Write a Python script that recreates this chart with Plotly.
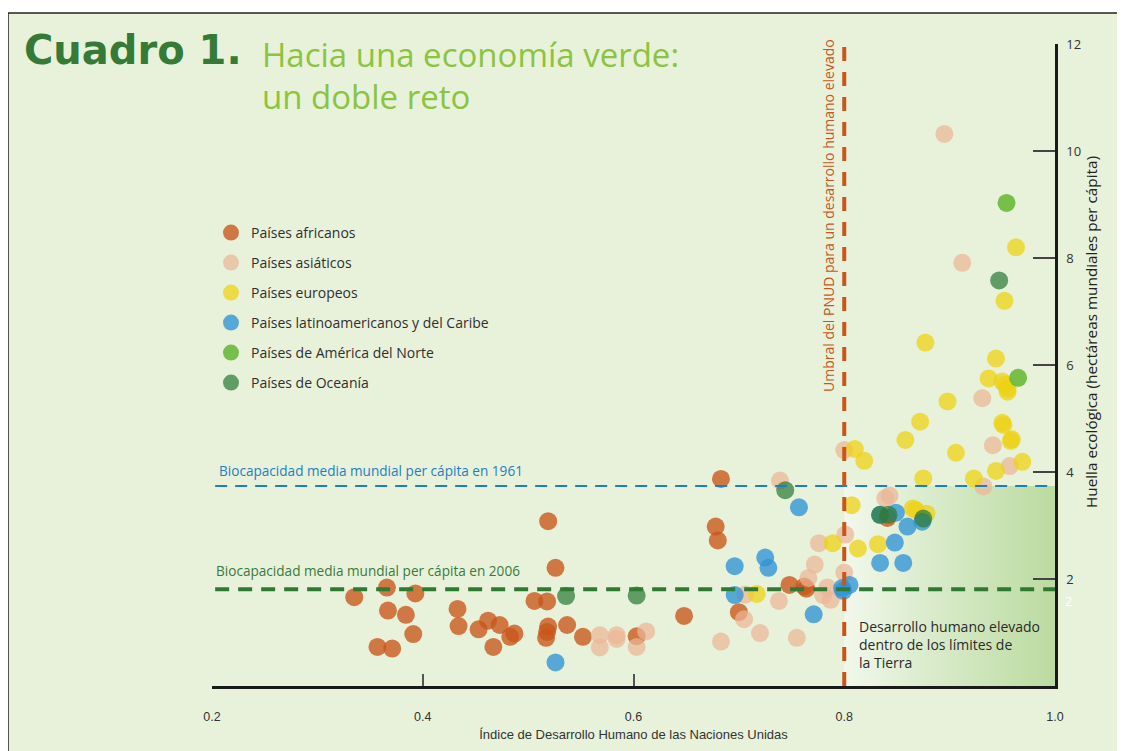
import plotly.graph_objects as go

# ---------------- data ----------------
african_x = [0.335, 0.366, 0.393, 0.367, 0.384, 0.391, 0.357, 0.371, 0.433, 0.434, 0.453, 0.462,
             0.473, 0.467, 0.483, 0.487, 0.519, 0.526, 0.506, 0.518, 0.519, 0.518, 0.517, 0.537,
             0.552, 0.603, 0.648, 0.683, 0.678, 0.680, 0.700, 0.748, 0.762, 0.764, 0.841]
african_y = [1.66, 1.84, 1.73, 1.41, 1.33, 0.97, 0.73, 0.70, 1.44, 1.12, 1.06, 1.22,
             1.14, 0.73, 0.92, 0.98, 3.08, 2.21, 1.59, 1.58, 1.11, 1.01, 0.90, 1.14,
             0.92, 0.93, 1.31, 3.87, 2.98, 2.72, 1.38, 1.89, 1.86, 1.82, 3.14]

asian_x = [0.895, 0.912, 0.931, 0.941, 0.957, 0.932, 0.800, 0.801, 0.776, 0.839, 0.843, 0.739,
           0.772, 0.800, 0.766, 0.784, 0.787, 0.780, 0.706, 0.738, 0.705, 0.720, 0.683, 0.755,
           0.568, 0.568, 0.584, 0.584, 0.603, 0.612]
asian_y = [10.32, 7.91, 5.38, 4.50, 4.11, 3.73, 4.41, 2.83, 2.67, 3.51, 3.56, 3.84,
           2.27, 2.12, 2.02, 1.84, 1.61, 1.70, 1.71, 1.59, 1.25, 0.99, 0.83, 0.90,
           0.95, 0.72, 0.95, 0.88, 0.73, 1.02]

european_x = [0.963, 0.952, 0.877, 0.944, 0.937, 0.950, 0.953, 0.955, 0.955, 0.898, 0.872, 0.950,
              0.951, 0.858, 0.959, 0.958, 0.906, 0.969, 0.944, 0.810, 0.819, 0.875, 0.923, 0.807,
              0.865, 0.868, 0.878, 0.789, 0.813, 0.832, 0.717]
european_y = [8.20, 7.20, 6.42, 6.12, 5.75, 5.69, 5.63, 5.56, 5.50, 5.32, 4.94, 4.92,
              4.88, 4.60, 4.61, 4.58, 4.36, 4.19, 4.02, 4.43, 4.21, 3.88, 3.88, 3.38,
              3.32, 3.29, 3.22, 2.67, 2.57, 2.65, 1.72]

latin_x = [0.526, 0.696, 0.725, 0.728, 0.696, 0.757, 0.771, 0.798, 0.805, 0.799, 0.834, 0.849,
           0.860, 0.874, 0.848, 0.834, 0.856]
latin_y = [0.44, 2.24, 2.40, 2.21, 1.70, 3.34, 1.34, 1.83, 1.89, 1.78, 3.20, 3.24,
           2.98, 3.07, 2.68, 2.30, 2.30]

north_america_x = [0.954, 0.965]
north_america_y = [9.03, 5.76]

oceania_x = [0.947, 0.536, 0.603, 0.744, 0.834, 0.842, 0.875]
oceania_y = [7.58, 1.68, 1.69, 3.66, 3.20, 3.20, 3.13]

series_names = ["Países africanos", "Países asiáticos", "Países europeos",
                "Países latinoamericanos y del Caribe", "Países de América del Norte",
                "Países de Oceanía"]

hdi_threshold = 0.8
biocap_1961 = 3.74
biocap_2006 = 1.81

x_ticks = [0.2, 0.4, 0.6, 0.8, 1.0]
x_tick_labels = ["0.2", "0.4", "0.6", "0.8", "1.0"]
y_ticks = [2, 4, 6, 8, 10, 12]
y_tick_labels = ["2", "4", "6", "8", "10", "12"]

# ---------------- layout helpers ----------------
OFF = 8  # page body margin
W, H = 1117, 743
ML, MR, MT, MB = 204, 70, 36, 65
PW, PH = W - ML - MR, H - MT - MB


def px_x(px):
    return (px - OFF - ML) / PW


def px_y(py):
    return (H - MB - (py - OFF)) / PH


BODY = "Open Sans, Noto Sans, sans-serif"
NARROW = "Liberation Sans Narrow, Arial Narrow, sans-serif"

fig = go.Figure()

# shaded "high development within Earth's limits" region
fig.add_trace(go.Scatter(
    x=[hdi_threshold, 1.0, 1.0, hdi_threshold, hdi_threshold],
    y=[0, 0, biocap_1961, biocap_1961, 0],
    mode="lines", line=dict(width=0), fill="toself",
    fillgradient=dict(type="horizontal",
                      colorscale=[[0, "#F2F8EC"], [0.35, "#DDEDD0"], [1, "#BBDBA0"]]),
    hoverinfo="skip", showlegend=False))

series = [
    (african_x, african_y, "#C8561A", 0.78),
    (asian_x, asian_y, "#EBB597", 0.72),
    (european_x, european_y, "#EDD215", 0.75),
    (latin_x, latin_y, "#2F93D6", 0.78),
    (north_america_x, north_america_y, "#6AB83A", 0.9),
    (oceania_x, oceania_y, "#2E7A37", 0.72),
]
for name, (xs, ys, col, op) in zip(series_names, series):
    fig.add_trace(go.Scatter(
        x=xs, y=ys, mode="markers", name=name, legendgroup=name,
        marker=dict(size=18, color=col, opacity=op, line=dict(width=0)),
    ))

shapes = [
    # background panel
    dict(type="rect", xref="paper", yref="paper", x0=px_x(8), x1=px_x(1140),
         y0=px_y(770), y1=px_y(13), fillcolor="#E8F2DA", line=dict(width=0), layer="below"),
    dict(type="line", xref="paper", yref="paper", x0=px_x(8), x1=px_x(1140),
         y0=px_y(13), y1=px_y(13), line=dict(color="#222", width=1.5), layer="below"),
    dict(type="line", xref="paper", yref="paper", x0=px_x(8), x1=px_x(8),
         y0=px_y(13), y1=px_y(770), line=dict(color="#222", width=1.5), layer="below"),
    # biocapacity lines
    dict(type="line", xref="x", yref="y", x0=0.203, x1=1.0, y0=biocap_1961, y1=biocap_1961,
         line=dict(color="#1C7FC4", width=2, dash="12px,8px"), layer="above"),
    dict(type="line", xref="x", yref="y", x0=0.203, x1=1.0, y0=biocap_2006, y1=biocap_2006,
         line=dict(color="#2F7A32", width=4, dash="14px,9px"), layer="above"),
    # HDI threshold
    dict(type="line", xref="x", yref="y", x0=hdi_threshold, x1=hdi_threshold, y0=0, y1=12,
         line=dict(color="#C8561A", width=4, dash="14px,11px"), layer="above"),
]

annotations = [
    dict(text="<b>Cuadro 1.</b>", xref="paper", yref="paper", x=px_x(22), y=px_y(50),
         xanchor="left", yanchor="middle", showarrow=False,
         font=dict(family="DejaVu Sans, sans-serif", size=40, color="#357A36")),
    dict(text="Hacia una economía verde:", xref="paper", yref="paper", x=px_x(260), y=px_y(55),
         xanchor="left", yanchor="middle", showarrow=False,
         font=dict(family=BODY, size=33, color="#8BC43F")),
    dict(text="un doble reto", xref="paper", yref="paper", x=px_x(260), y=px_y(97),
         xanchor="left", yanchor="middle", showarrow=False,
         font=dict(family=BODY, size=33, color="#8BC43F")),
    dict(text="Biocapacidad media mundial per cápita en 1961", xref="paper", yref="paper",
         x=px_x(217), y=px_y(470), xanchor="left", yanchor="middle", showarrow=False,
         font=dict(family=BODY, size=13.6, color="#1C7FC4")),
    dict(text="Biocapacidad media mundial per cápita en 2006", xref="paper", yref="paper",
         x=px_x(214), y=px_y(570), xanchor="left", yanchor="middle", showarrow=False,
         font=dict(family=BODY, size=13.6, color="#3A7A38")),
    dict(text="Umbral del PNUD para un desarrollo humano elevado", xref="paper", yref="paper",
         x=px_x(828), y=px_y(216), xanchor="center", yanchor="middle", textangle=-90,
         showarrow=False, font=dict(family=BODY, size=14, color="#C8561A")),
    dict(text="Desarrollo humano elevado<br>dentro de los límites de<br>la Tierra",
         xref="paper", yref="paper", x=px_x(857), y=px_y(644), xanchor="left",
         yanchor="middle", align="left", showarrow=False,
         font=dict(family=BODY, size=14, color="#2A2A2A")),
    dict(text="Huella ecológica (hectáreas mundiales per cápita)", xref="paper", yref="paper",
         x=px_x(1091), y=px_y(332), xanchor="center", yanchor="middle", textangle=-90,
         showarrow=False, font=dict(family=BODY, size=15.3, color="#222")),
    dict(text="2", xref="paper", yref="paper", x=px_x(1068), y=px_y(601), xanchor="center",
         yanchor="middle", showarrow=False, font=dict(family=BODY, size=12.5, color="#FFFFFF")),
]

fig.update_layout(
    width=W, height=H,
    margin=dict(l=ML, r=MR, t=MT, b=MB, autoexpand=False),
    paper_bgcolor="#FFFFFF", plot_bgcolor="rgba(0,0,0,0)",
    shapes=shapes, annotations=annotations,
    showlegend=True,
    legend=dict(x=px_x(211), y=px_y(217), xanchor="left", yanchor="top",
                bgcolor="rgba(0,0,0,0)", tracegroupgap=8.8, itemsizing="trace",
                font=dict(family=BODY, size=14, color="#2F2F2F")),
    xaxis=dict(range=[0.2, 1.0], showgrid=False, zeroline=False,
               showline=True, linecolor="#1A1A1A", linewidth=2.5,
               ticks="inside", ticklen=12, tickwidth=1.5, tickcolor="#555",
               tickvals=x_ticks, ticktext=x_tick_labels, ticklabelstandoff=17,
               tickfont=dict(family=NARROW, size=12.5, color="#333"),
               title=dict(text="Índice de Desarrollo Humano de las Naciones Unidas",
                          font=dict(family=NARROW, size=13, color="#333"), standoff=8)),
    yaxis=dict(range=[0, 12], side="right", showgrid=False, zeroline=False,
               showline=True, linecolor="#1A1A1A", linewidth=2.5,
               ticks="inside", ticklen=22, tickwidth=1.5, tickcolor="#444",
               tickvals=y_ticks, ticktext=y_tick_labels, ticklabelstandoff=6,
               tickfont=dict(family=BODY, size=13, color="#333")),
)

fig.write_html("out.html")
